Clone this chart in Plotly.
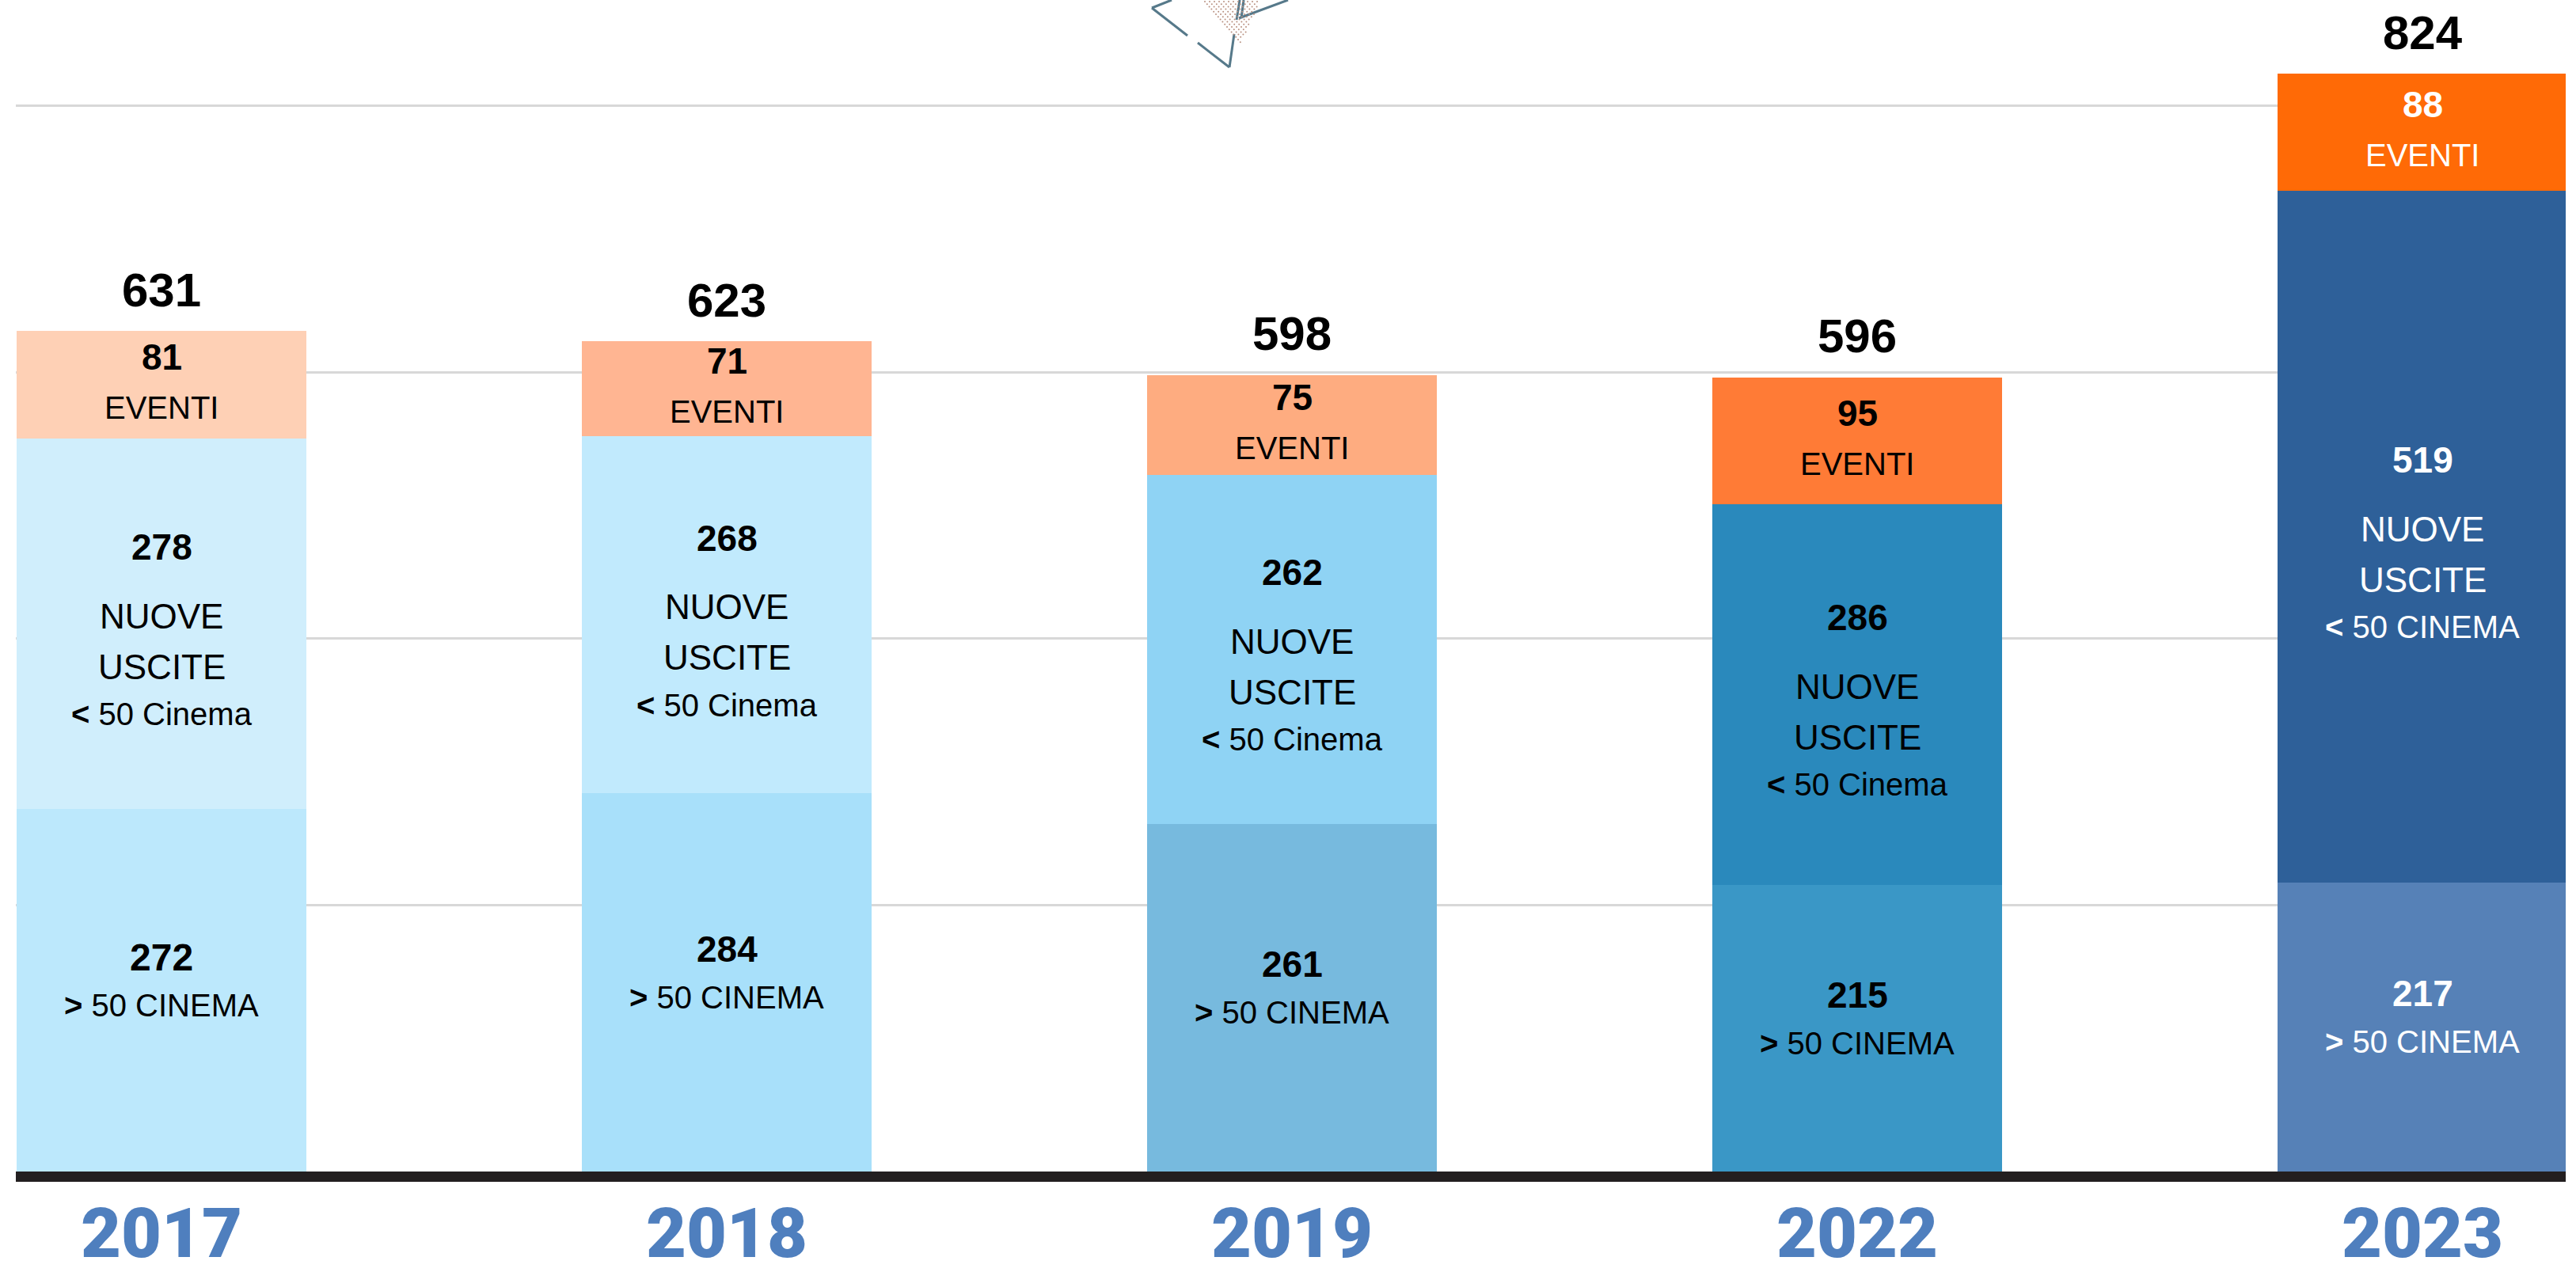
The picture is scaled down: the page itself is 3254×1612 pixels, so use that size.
import plotly.graph_objects as go

# ---------------- data ----------------
years = ["2017", "2018", "2019", "2022", "2023"]
over50 = [272, 284, 261, 215, 217]          # > 50 CINEMA
new_under50 = [278, 268, 262, 286, 519]     # NUOVE USCITE < 50 cinema
events = [81, 71, 75, 95, 88]               # EVENTI
totals = [631, 623, 598, 596, 824]
mid_small_label = ["&lt; 50 Cinema", "&lt; 50 Cinema", "&lt; 50 Cinema", "&lt; 50 Cinema", "&lt; 50 CINEMA"]

# ---------------- styles ----------------
col_over50 = ["#BCE8FC", "#A8E0FA", "#77BADE", "#3A97C6", "#5681B7"]
col_new = ["#D0EEFC", "#C1EAFD", "#8FD3F4", "#2A89BC", "#2E6099"]
col_events = ["#FED0B5", "#FFB592", "#FEAC80", "#FF7B36", "#FF6A06"]
txt_col = ["#000000", "#000000", "#000000", "#000000", "#FFFFFF"]
year_col = "#4F7FBE"
FONT = "Liberation Sans, Arial, sans-serif"
YEAR_FONT = "Roboto, Liberation Sans, Arial, sans-serif"

W, H = 3254, 1612
ML, MR, MT, MB = 20, 13, 0, 132
PX_PER_UNIT = 1.683
plot_h = H - MT - MB
ymax = plot_h / PX_PER_UNIT
pitch = 714.0
first_c = 204 - ML
plot_w = W - ML - MR
xmin = -first_c / pitch
xmax = (plot_w - first_c) / pitch
BAR_W = 366 / pitch

x = list(range(len(years)))

fig = go.Figure()
for vals, cols, name in [(over50, col_over50, "> 50 CINEMA"),
                         (new_under50, col_new, "NUOVE USCITE < 50 Cinema"),
                         (events, col_events, "EVENTI")]:
    fig.add_trace(go.Bar(x=x, y=vals, width=BAR_W, name=name,
                         marker=dict(color=cols, line=dict(width=0)),
                         hoverinfo="skip", showlegend=False))

ann = []


def add_text(xi, yc, text, shift, size, color, family=FONT, bold=False):
    t = f"<b>{text}</b>" if bold else text
    ann.append(dict(x=xi, y=yc, xref="x", yref="y", text=t, showarrow=False,
                    yshift=-shift, xanchor="center", yanchor="middle",
                    font=dict(family=family, size=size, color=color)))


for i in x:
    c = txt_col[i]
    # bottom segment
    yc = over50[i] / 2
    add_text(i, yc, str(over50[i]), -42, 48 if i == 0 else 46, c, FONT, True)
    add_text(i, yc, "<b>&gt;</b> 50 CINEMA", 19, 40, c)
    # middle segment
    yc = over50[i] + new_under50[i] / 2
    add_text(i, yc, str(new_under50[i]), -97, 46, c, FONT, True)
    add_text(i, yc, "NUOVE", -10, 44, c)
    add_text(i, yc, "USCITE", 54, 44, c)
    add_text(i, yc, mid_small_label[i].replace("&lt;", "<b>&lt;</b>"), 114, 40, c)
    # top segment
    yc = over50[i] + new_under50[i] + events[i] / 2
    add_text(i, yc, str(events[i]), -35, 46, c, FONT, True)
    add_text(i, yc, "EVENTI", 29, 40, c)
    # total above bar
    add_text(i, totals[i], str(totals[i]), -52, 60, "#000000", FONT, True)
    # year label
    ann.append(dict(x=i, y=0, xref="x", yref="paper", text=years[i],
                    showarrow=False, xanchor="center", yanchor="bottom",
                    yshift=-(H - MB - 1) + (H - MB) - (MB - 1),
                    borderpad=0,
                    font=dict(family=YEAR_FONT, size=88, color=year_col, weight=900)))


def px(xp):
    return (xp - ML) / plot_w


def py(yp):
    return (H - MB - yp) / plot_h


shapes = []
# black baseline
shapes.append(dict(type="rect", xref="paper", yref="paper", x0=0, x1=1,
                   y0=py(H - MB + 13), y1=py(H - MB), fillcolor="#231F20",
                   line=dict(width=0), layer="above"))

# decorative paper-plane logo at top centre
logo_col = "#56798A"
segs = [[(1455, 10), (1500, 45)], [(1513, 54), (1553, 85)], [(1553, 85), (1559, 43)],
        [(1455, 10), (1480, 0)], [(1565, 23), (1627, 0)], [(1562, 25), (1566, 0)],
        [(1568, 23), (1571, 0)]]
for (a, b) in segs:
    shapes.append(dict(type="line", xref="paper", yref="paper", x0=px(a[0]), y0=py(a[1]),
                       x1=px(b[0]), y1=py(b[1]), line=dict(color=logo_col, width=3)))
for r in range(0, 17):
    yy = 2 + r * 3.2
    xa = 1522 + r * 2.8
    xb = 1592 - r * 1.5
    xx = xa
    while xx <= xb:
        shapes.append(dict(type="circle", xref="paper", yref="paper",
                           x0=px(xx - 1), x1=px(xx + 1), y0=py(yy + 1), y1=py(yy - 1),
                           fillcolor="#B89080", line=dict(width=0)))
        xx += 6

fig.update_layout(
    width=W, height=H,
    margin=dict(l=ML, r=MR, t=MT, b=MB, pad=0),
    paper_bgcolor="white", plot_bgcolor="white",
    barmode="stack", bargap=0,
    xaxis=dict(range=[xmin, xmax], showgrid=False, zeroline=False, showticklabels=False,
               ticks="", showline=False, fixedrange=True),
    yaxis=dict(range=[0, ymax], tick0=0, dtick=200, showgrid=True, gridcolor="#D8D8D8",
               gridwidth=3, zeroline=False, showticklabels=False, ticks="", showline=False,
               fixedrange=True),
    annotations=ann, shapes=shapes,
    font=dict(family=FONT),
)

fig.write_html("out.html", config={"displayModeBar": False},
               post_script="document.body.style.margin='0';document.body.style.overflow='hidden';")
